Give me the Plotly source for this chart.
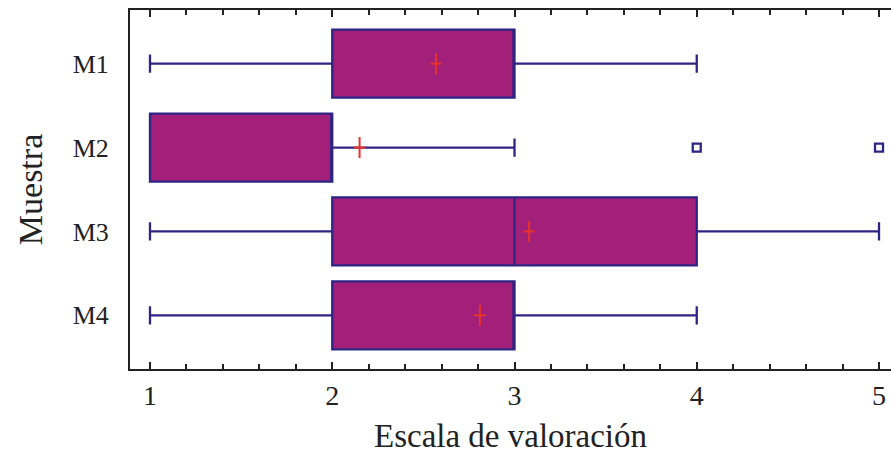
import plotly.graph_objects as go

categories = ["M1", "M2", "M3", "M4"]
q1 = [2, 1, 2, 2]
median = [3, 2, 3, 3]
q3 = [3, 2, 4, 3]
lower_whisker = [1, 1, 1, 1]
upper_whisker = [4, 3, 5, 4]
means = [2.57, 2.15, 3.08, 2.81]
outlier_cat = ["M2", "M2"]
outlier_val = [4, 5]

pos = {c: i for i, c in enumerate(categories)}
FILL = "#A3207A"
EDGE = "#2E2484"
RED = "#E8322A"
FONT = "Liberation Serif"

fig = go.Figure()
fig.add_trace(go.Box(
    orientation="h",
    y=[pos[c] for c in categories],
    q1=q1, median=median, q3=q3,
    lowerfence=lower_whisker, upperfence=upper_whisker,
    width=0.81, whiskerwidth=0.27,
    fillcolor=FILL, line=dict(color=EDGE, width=2.3),
    boxpoints=False, showlegend=False, hoverinfo="skip",
))
fig.add_trace(go.Scatter(
    x=means, y=[pos[c] for c in categories], mode="markers",
    marker=dict(symbol="line-ns", size=15, line=dict(color=RED, width=2)),
    showlegend=False, hoverinfo="skip",
))
fig.add_trace(go.Scatter(
    x=means, y=[pos[c] for c in categories], mode="markers",
    marker=dict(symbol="line-ew", size=8, line=dict(color=RED, width=2)),
    showlegend=False, hoverinfo="skip",
))
fig.add_trace(go.Scatter(
    x=outlier_val, y=[pos[c] for c in outlier_cat], mode="markers",
    marker=dict(symbol="square-open", size=8, color=EDGE, line=dict(color=EDGE, width=2.3)),
    showlegend=False, hoverinfo="skip",
))

fig.update_layout(
    width=891, height=454,
    margin=dict(l=130, r=0, t=10, b=85),
    paper_bgcolor="white", plot_bgcolor="white",
    font=dict(family=FONT, color="#222222"),
    xaxis=dict(
        range=[0.8903, 5.0658], tickmode="array", tickvals=[1, 2, 3, 4, 5],
        ticks="inside", ticklen=7, tickwidth=2, tickcolor="#222222",
        minor=dict(ticks="inside", dtick=0.2, tick0=1, ticklen=5, tickwidth=2, tickcolor="#222222"),
        showline=True, linewidth=2, linecolor="#222222", mirror="ticks",
        showgrid=False, zeroline=False,
        tickfont=dict(size=28, family=FONT, color="#222222"),
        ticklabelstandoff=0,
        title=dict(text="Escala de valoración", font=dict(size=33, family=FONT, color="#222222"), standoff=14),
    ),
    yaxis=dict(
        range=[3.64, -0.64], tickmode="array", tickvals=list(range(len(categories))),
        ticktext=categories, ticks="",
        showline=True, linewidth=2, linecolor="#222222",
        showgrid=False, zeroline=False,
        tickfont=dict(size=26, family=FONT, color="#222222"),
        ticklabelstandoff=14,
        title=dict(text="Muestra", font=dict(size=34, family=FONT, color="#222222"), standoff=20),
    ),
)
fig.write_html("out.html")
